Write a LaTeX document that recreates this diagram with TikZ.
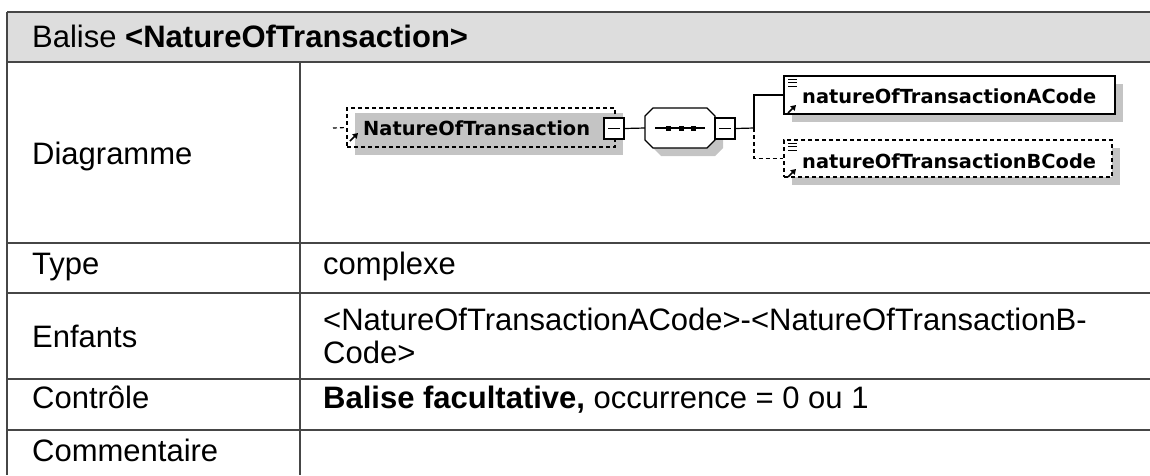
\documentclass[tikz,border=0pt]{standalone}
\usepackage{fontspec}
\setmainfont{Liberation Sans}
\newfontfamily\xs{DejaVu Sans}
\usetikzlibrary{arrows.meta}
\definecolor{hdr}{RGB}{221,221,221}
\definecolor{shad}{RGB}{196,196,196}
\definecolor{rulec}{RGB}{70,70,70}
\begin{document}
\begin{tikzpicture}[x=1pt,y=-1pt,
  rule/.style={draw=rulec,line width=1.3pt},
  lbl/.style={anchor=base west,inner sep=0pt,font=\fontsize{31}{34}\selectfont},
  xsd/.style={anchor=base west,inner sep=0pt,font=\xs\bfseries\fontsize{19.4}{22}\selectfont},
  conn/.style={draw=black,line width=1.2pt},
  dsh/.style={dash pattern=on 4pt off 3pt},
  shadowbox/.style={fill=shad,draw=none,inner sep=0pt},
  elembox/.style={draw=black,line width=1.2pt,inner sep=0pt},
  minusbox/.style={draw=black,line width=1.2pt,fill=white,inner sep=0pt,minimum width=20,minimum height=21},
  icon/.style={draw=black,line width=1pt},
  arr/.style={draw=black,line width=1.6pt,-{Triangle[length=5pt,width=6pt]}}
]
\useasboundingbox (0,0) rectangle (1150,475);
% table
\fill[hdr] (7,12) rectangle (1150,62);
\draw[rule] (7,12) -- (1150,12);
\draw[rule] (7,62) -- (1150,62);
\draw[rule] (7,243) -- (1150,243);
\draw[rule] (7,293) -- (1150,293);
\draw[rule] (7,379) -- (1150,379);
\draw[rule] (7,430) -- (1150,430);
\draw[rule] (7,12) -- (7,475);
\draw[rule] (300,62) -- (300,475);
% texts
\node[lbl] (title) at (32,47) {Balise \textbf{<NatureOfTransaction>}};
\node[lbl] (l1) at (32,164) {Diagramme};
\node[lbl] (l2) at (32,274) {Type};
\node[lbl] (l3) at (32,347) {Enfants};
\node[lbl] (l4) at (32,408) {Contrôle};
\node[lbl] (l5) at (32,461) {Commentaire};
\node[lbl] (v2) at (323,274) {complexe};
\node[lbl] (v3a) at (323,330) {<NatureOfTransactionACode>-<NatureOfTransactionB-};
\node[lbl] (v3b) at (323,363) {Code>};
\node[lbl] (v4) at (323,408) {\textbf{Balise facultative,} occurrence = 0 ou 1};
% diagram: shadows
\node[shadowbox,minimum width=268,minimum height=42] (rootsh) at (489,134) {};
\fill[shad] (661,116) -- (715,116) -- (723,124) -- (723,148) -- (715,156) -- (661,156) -- (653,148) -- (653,124) -- cycle;
\node[shadowbox,minimum width=331,minimum height=38] (ash) at (957.5,103) {};
\node[shadowbox,minimum width=328,minimum height=37] (bsh) at (956,166.5) {};
% root element
\node[elembox,dsh,minimum width=268,minimum height=39] (root) at (481,127.5) {};
\node[xsd] (roottxt) at (363,135) {NatureOfTransaction};
\draw[arr] (350,141) -- (358,133);
\coordinate (stub) at (333,128);
\draw[conn,dsh] (stub) -- (root.west);
\node[minusbox] (m1) at (614,128.5) {};
\draw[conn] ([xshift=-6pt]m1.center) -- ([xshift=6pt]m1.center);
% sequence
\node[inner sep=0pt,minimum width=70,minimum height=40] (seq) at (680,128) {};
\filldraw[fill=white,conn] (653,108) -- (707,108) -- (715,116) -- (715,140) -- (707,148) -- (653,148) -- (645,140) -- (645,116) -- cycle;
\coordinate (sq1) at (655,128);
\coordinate (sq2) at (705,128);
\draw[conn] (sq1) -- (sq2);
\fill (665.5,125.5) rectangle +(5,5);
\fill (678.5,125.5) rectangle +(5,5);
\fill (690.5,125.5) rectangle +(5,5);
\draw[conn] (m1.east) -- (seq.west);
\node[minusbox] (m2) at (725,128.5) {};
\draw[conn] ([xshift=-6pt]m2.center) -- ([xshift=6pt]m2.center);
% children
\node[elembox,fill=white,line width=1.5pt,minimum width=331,minimum height=38] (a) at (949.5,95) {};
\node[xsd] (atxt) at (802,103) {natureOfTransactionACode};
\node[elembox,dsh,fill=white,minimum width=328,minimum height=37] (b) at (948,158.5) {};
\node[xsd] (btxt) at (802,168) {natureOfTransactionBCode};
\foreach \yy in {79,82.5,86} \draw[icon] (788,\yy) -- (797,\yy);
\foreach \yy in {143,146.5,150} \draw[icon] (788,\yy) -- (797,\yy);
\draw[arr] (788,113) -- (796,105);
\draw[arr] (788,177) -- (796,169);
\coordinate (br) at (754,128);
\draw[conn] (m2.east) -- (br);
\draw[conn] (br) |- (a.west);
\draw[conn,dsh] (br) |- (b.west);
\end{tikzpicture}
\end{document}
